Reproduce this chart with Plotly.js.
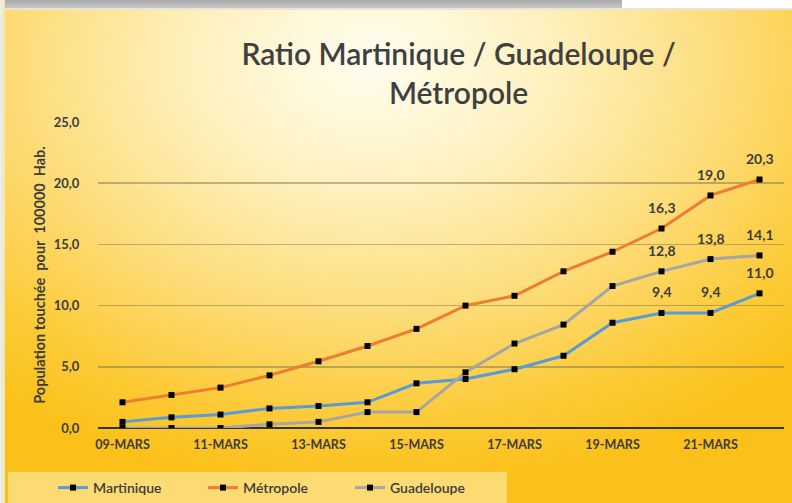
<!DOCTYPE html>
<html>
<head>
<meta charset="utf-8">
<script src="https://cdn.plot.ly/plotly-3.0.1.min.js"></script>
<style>
  html, body { margin: 0; padding: 0; }
  #wrap { position: relative; width: 792px; height: 503px; overflow: hidden;
    background: radial-gradient(ellipse 75% 85% at 47% 12%, #fffdf0 0%, #fef1bf 30%, #fddc78 60%, #fcca35 85%, #fbc11a 100%); }
  #topbar { position: absolute; left: 0; top: 0; width: 622px; height: 8px; background: linear-gradient(#a9a9a9, #c6c6c6); }
  #topwhite { position: absolute; left: 622px; top: 0; width: 170px; height: 8px; background: #ffffff; }
  #topline { position: absolute; left: 0; top: 8px; width: 792px; height: 2px; background: #e8e4d8; }
  #leftline { position: absolute; left: 0; top: 0; width: 5px; height: 503px; background: linear-gradient(90deg, #e9eef0, #f7e6a8); }
  #chart { position: absolute; left: 0; top: 0; width: 792px; height: 503px; }
</style>
</head>
<body>
<div id="wrap">
  <div id="topbar"></div>
  <div id="topwhite"></div>
  <div id="topline"></div>
  <div id="leftline"></div>
  <div id="chart"></div>
</div>
<script>
const categories = ['09-MARS','10-MARS','11-MARS','12-MARS','13-MARS','14-MARS','15-MARS','16-MARS','17-MARS','18-MARS','19-MARS','20-MARS','21-MARS','22-MARS'];
const tickLabels = ['09-MARS','11-MARS','13-MARS','15-MARS','17-MARS','19-MARS','21-MARS'];
const martinique = [0.5, 0.87, 1.1, 1.6, 1.8, 2.1, 3.65, 4.0, 4.8, 5.9, 8.6, 9.4, 9.4, 11.0];
const metropole  = [2.1, 2.7, 3.3, 4.3, 5.45, 6.7, 8.1, 10.0, 10.8, 12.8, 14.4, 16.3, 19.0, 20.3];
const guadeloupe = [0, 0, 0, 0.3, 0.5, 1.3, 1.3, 4.55, 6.9, 8.45, 11.6, 12.8, 13.8, 14.1];
const labeledPoints = ['20-MARS','21-MARS','22-MARS'];

const FONT = 'Lato, "Open Sans", sans-serif';
const TXT = '#3c3c3c';

function mk(name, ys, color, leg) {
  return {
    type: 'scatter', mode: 'lines+markers', name: name, legend: leg,
    x: categories, y: ys,
    line: { color: color, width: 3 },
    marker: { symbol: 'square', size: 6, color: '#000000' }
  };
}
const data = [
  mk('Martinique', martinique, '#5b9bd5', 'legend'),
  mk('Métropole', metropole, '#ed7d31', 'legend2'),
  mk('Guadeloupe', guadeloupe, '#a5a5a5', 'legend3')
];

const annotations = [];
[martinique, metropole, guadeloupe].forEach(function (ys) {
  categories.forEach(function (c, i) {
    if (labeledPoints.indexOf(c) >= 0) {
      annotations.push({
        x: c, y: ys[i], xref: 'x', yref: 'y',
        text: ys[i].toFixed(1).replace('.', ','),
        showarrow: false, yshift: 21,
        font: { family: FONT, size: 14, color: TXT, weight: 'bold' }
      });
    }
  });
});

function leg(px) {
  return {
    orientation: 'h', xref: 'container', yref: 'container',
    x: px / 792, xanchor: 'left', y: 1 - 488 / 503, yanchor: 'middle',
    bgcolor: 'rgba(0,0,0,0)',
    font: { family: FONT, size: 14, color: TXT, weight: 600 },
    itemwidth: 30
  };
}

const layout = {
  width: 792, height: 503,
  paper_bgcolor: 'rgba(0,0,0,0)', plot_bgcolor: 'rgba(0,0,0,0)',
  margin: { l: 98, r: 8, t: 122, b: 75 },
  separators: ',.',
  showlegend: true,
  font: { family: FONT, color: TXT },
  title: {
    text: 'Ratio Martinique / Guadeloupe /<br>Métropole',
    x: 0.579, xref: 'container', xanchor: 'center',
    y: 0.871, yref: 'container', yanchor: 'middle',
    font: { family: FONT, size: 30, color: '#404040', weight: 600 }
  },
  xaxis: {
    type: 'category', range: [-0.5, 13.5],
    tickmode: 'array', tickvals: tickLabels, ticktext: tickLabels,
    showgrid: false, zeroline: false,
    showline: false, automargin: false,
    ticks: 'outside', ticklen: 5, tickcolor: 'rgba(0,0,0,0)',
    tickfont: { family: FONT, size: 12.5, color: TXT, weight: 'bold' },
    fixedrange: true
  },
  yaxis: {
    range: [0, 25], tickvals: [0, 5, 10, 15, 20, 25], tickformat: '.1f',
    showgrid: true, gridcolor: 'rgba(110,105,80,0.45)', gridwidth: 1.5,
    zeroline: true, zerolinecolor: '#333333', zerolinewidth: 2,
    showline: false, automargin: false,
    ticks: 'outside', ticklen: 15, tickcolor: 'rgba(0,0,0,0)',
    tickfont: { family: FONT, size: 13, color: TXT, weight: 'bold' },
    title: { text: 'Population touchée  pour  100000  Hab.', standoff: 4,
             font: { family: FONT, size: 14.5, color: TXT, weight: 'bold' } },
    fixedrange: true
  },
  legend: leg(53),
  legend2: leg(203),
  legend3: leg(350),
  shapes: [{
    type: 'rect', xref: 'paper', yref: 'paper', layer: 'below',
    x0: (8 - 98) / 686, x1: (507 - 98) / 686,
    y0: (428 - 503) / 306, y1: (428 - 472) / 306,
    fillcolor: 'rgba(255,250,225,0.45)', line: { width: 0 }
  }],
  annotations: annotations
};

Plotly.newPlot('chart', data, layout, { displayModeBar: false, staticPlot: true });
</script>
</body>
</html>
